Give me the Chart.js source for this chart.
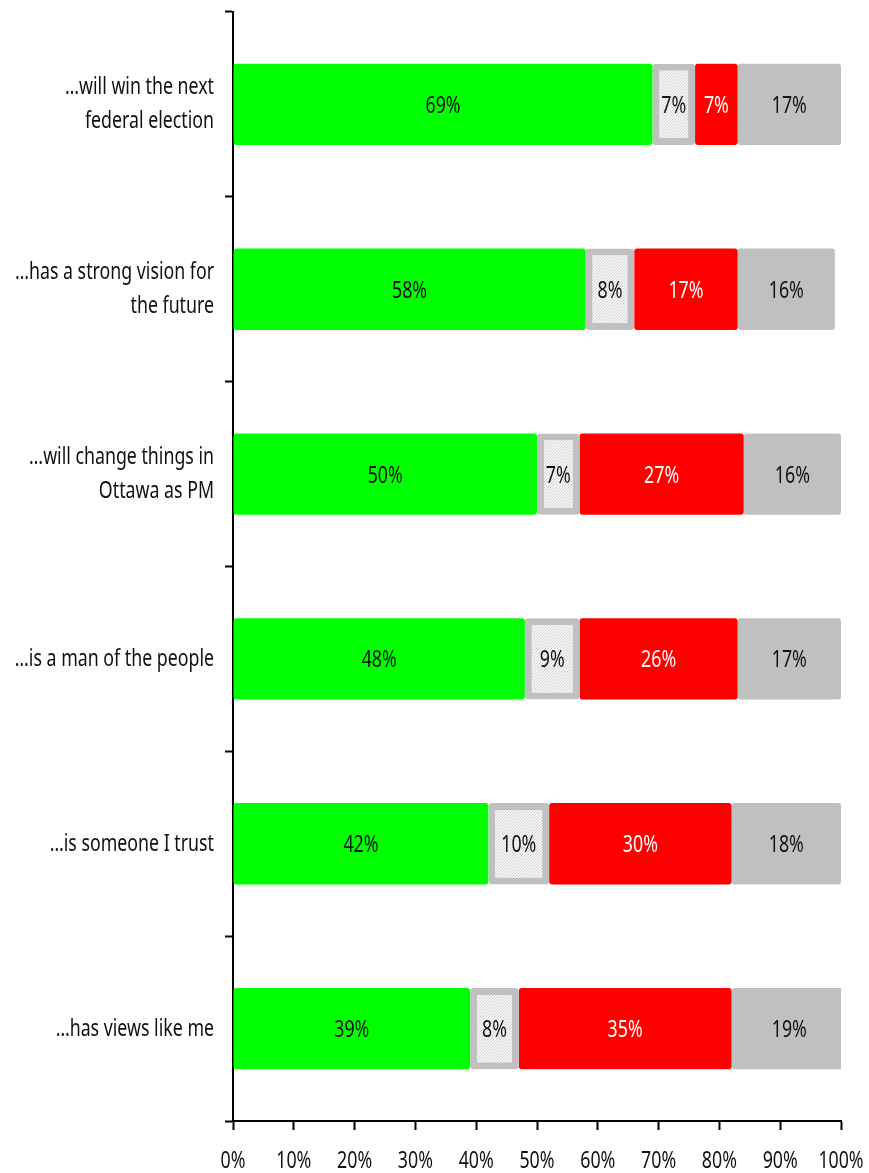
<!DOCTYPE html>
<html lang="en">
<head>
    <meta charset="UTF-8">
    <title>Leader attributes</title>
    <script src="https://cdn.jsdelivr.net/npm/chart.js"></script>
    <style>
        html, body {
            margin: 0;
            padding: 0;
            background: #ffffff;
        }
        .wrap {
            width: 869px;
            height: 1173px;
            position: relative;
        }
    </style>
</head>
<body>
    <div class="wrap">
        <canvas id="chart"></canvas>
    </div>

    <script>
        // Statements (one entry per bar, multi-line where the label wraps)
        const categories = [
            ['\u2026will win the next', 'federal election'],
            ['\u2026has a strong vision for', 'the future'],
            ['\u2026will change things in', 'Ottawa as PM'],
            '\u2026is a man of the people',
            '\u2026is someone I trust',
            '\u2026has views like me'
        ];

        // Percent of respondents
        const agreeValues    = [69, 58, 50, 48, 42, 39];
        const neutralValues  = [7, 8, 7, 9, 10, 8];
        const disagreeValues = [7, 17, 27, 26, 30, 35];
        const unsureValues   = [17, 16, 16, 17, 18, 19];

        const xTicks = [0, 10, 20, 30, 40, 50, 60, 70, 80, 90, 100];

        // no condensed face is installed, so text is squeezed horizontally
        const FONT = "'Noto Sans', 'Open Sans', sans-serif";
        const SQUEEZE = 0.74;

        function narrowText(ctx, text, x, y, align, color, size) {
            ctx.save();
            ctx.font = size + 'px ' + FONT;
            ctx.fillStyle = color;
            ctx.textAlign = align;
            ctx.textBaseline = 'alphabetic';
            ctx.translate(x, y);
            ctx.scale(SQUEEZE, 1);
            ctx.fillText(text, 0, 0);
            ctx.restore();
        }

        // light diagonal hatch for the middle segment
        function makeHatch() {
            const c = document.createElement('canvas');
            c.width = 3;
            c.height = 3;
            const g = c.getContext('2d');
            g.fillStyle = '#f7f7f7';
            g.fillRect(0, 0, 3, 3);
            g.fillStyle = '#d2d2d2';
            g.fillRect(2, 0, 1, 1);
            g.fillRect(1, 1, 1, 1);
            g.fillRect(0, 2, 1, 1);
            return g.createPattern(c, 'repeat');
        }

        const radius = { topLeft: 3, topRight: 3, bottomLeft: 3, bottomRight: 3 };

        // percent text in every segment
        const segmentLabels = {
            id: 'segmentLabels',
            afterDatasetsDraw(chart) {
                const ctx = chart.ctx;
                chart.data.datasets.forEach((ds, i) => {
                    const meta = chart.getDatasetMeta(i);
                    meta.data.forEach((bar, j) => {
                        const cx = (bar.x + bar.base) / 2;
                        narrowText(ctx, ds.data[j] + '%', cx, bar.y + 8.5, 'center', ds.labelColor, 24);
                    });
                });
            }
        };

        // axis labels, drawn narrow
        const axisLabels = {
            id: 'axisLabels',
            afterDraw(chart) {
                const ctx = chart.ctx;
                const xs = chart.scales.x;
                const ys = chart.scales.y;
                xTicks.forEach(v => {
                    narrowText(ctx, v + '%', xs.getPixelForValue(v), ys.bottom + 47, 'center', '#111111', 24);
                });
                categories.forEach((lab, i) => {
                    const lines = Array.isArray(lab) ? lab : [lab];
                    const cy = ys.getPixelForValue(i);
                    const first = cy - (lines.length - 1) * 17;
                    lines.forEach((t, k) => {
                        narrowText(ctx, t, ys.left + 214, first + k * 34 + 7, 'right', '#111111', 24);
                    });
                });
            }
        };

        const ctx = document.getElementById('chart').getContext('2d');
        new Chart(ctx, {
            type: 'bar',
            data: {
                labels: categories,
                datasets: [
                    {
                        data: agreeValues,
                        backgroundColor: '#00ff00',
                        borderWidth: 0,
                        borderRadius: radius,
                        borderSkipped: false,
                        labelColor: '#111111'
                    },
                    {
                        data: neutralValues,
                        backgroundColor: makeHatch(),
                        borderColor: '#c0c0c0',
                        borderWidth: 7,
                        borderRadius: radius,
                        borderSkipped: false,
                        labelColor: '#111111'
                    },
                    {
                        data: disagreeValues,
                        backgroundColor: '#ff0000',
                        borderWidth: 0,
                        borderRadius: radius,
                        borderSkipped: false,
                        labelColor: '#ffffff'
                    },
                    {
                        data: unsureValues,
                        backgroundColor: '#c0c0c0',
                        borderWidth: 0,
                        borderRadius: radius,
                        borderSkipped: false,
                        labelColor: '#111111'
                    }
                ]
            },
            options: {
                indexAxis: 'y',
                responsive: true,
                maintainAspectRatio: false,
                animation: false,
                layout: {
                    padding: { top: 12, right: 28, left: 0, bottom: 0 }
                },
                datasets: {
                    bar: {
                        categoryPercentage: 1.0,
                        barPercentage: 0.44
                    }
                },
                plugins: {
                    legend: { display: false },
                    tooltip: { enabled: false }
                },
                scales: {
                    x: {
                        stacked: true,
                        min: 0,
                        max: 100,
                        z: 1,
                        afterBuildTicks: (scale) => {
                            scale.ticks = xTicks.map(v => ({ value: v }));
                        },
                        afterFit: (scale) => {
                            scale.height = 52;
                            scale.paddingLeft = 0;
                            scale.paddingRight = 0;
                        },
                        border: { color: '#000000', width: 2 },
                        grid: {
                            drawOnChartArea: false,
                            drawTicks: true,
                            tickLength: 9,
                            tickWidth: 2,
                            color: '#000000'
                        },
                        ticks: {
                            color: 'rgba(0,0,0,0)',
                            maxRotation: 0,
                            font: { family: FONT, size: 12 }
                        }
                    },
                    y: {
                        stacked: true,
                        z: 1,
                        afterFit: (scale) => {
                            scale.width = 233;
                            scale.paddingTop = 0;
                            scale.paddingBottom = 0;
                        },
                        border: { color: '#000000', width: 2 },
                        grid: {
                            offset: true,
                            drawOnChartArea: false,
                            drawTicks: true,
                            tickLength: 8,
                            tickWidth: 2,
                            color: '#000000'
                        },
                        ticks: {
                            color: 'rgba(0,0,0,0)',
                            font: { family: FONT, size: 12 }
                        }
                    }
                }
            },
            plugins: [segmentLabels, axisLabels]
        });
    </script>
</body>
</html>
